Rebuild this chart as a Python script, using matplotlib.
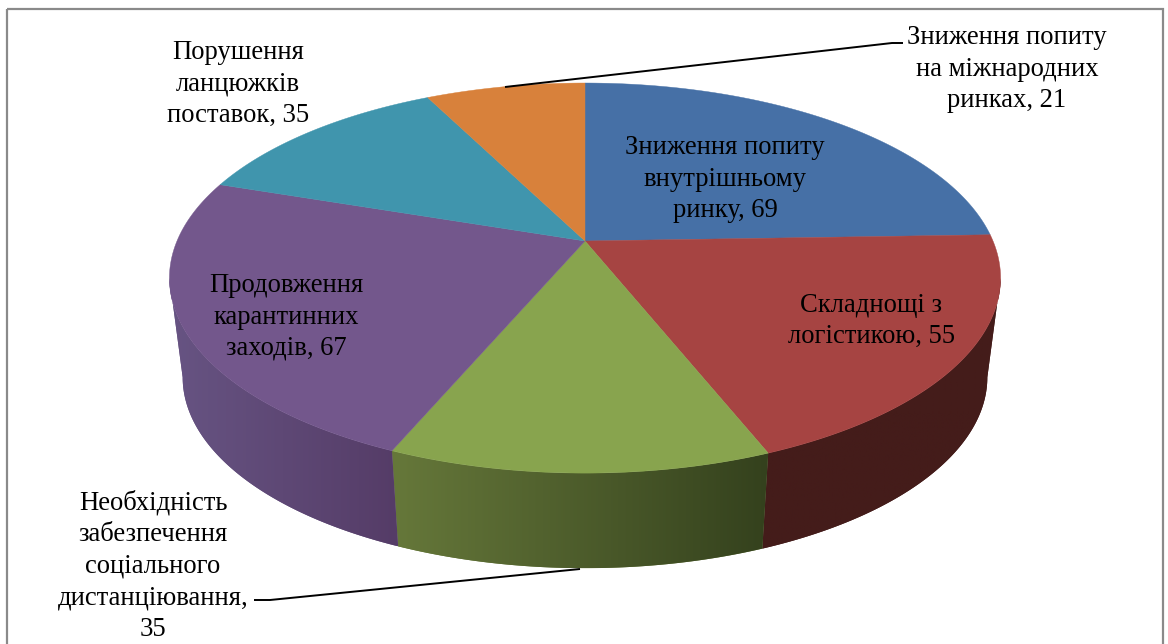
import numpy as np
import matplotlib
matplotlib.use("Agg")
import matplotlib.pyplot as plt
from matplotlib.patches import Polygon, Rectangle
from matplotlib.colors import to_rgb

categories = ["Зниження попиту\nвнутрішньому\nринку, 69", "Складнощі з\nлогістикою, 55",
              "Необхідність\nзабезпечення\nсоціального\nдистанціювання,\n35",
              "Продовження\nкарантинних\nзаходів, 67", "Порушення\nланцюжків\nпоставок, 35",
              "Зниження попиту\nна міжнародних\nринках, 21"]
values = [69, 55, 35, 67, 35, 21]
top_colors = ["#4670a6", "#a64442", "#88a44e", "#73578c", "#4095ad", "#d8813b"]
side_left = [None, "#441c1a", "#66783a", "#675483", None, None]
side_right = [None, "#441c1a", "#34411d", "#553c67", None, None]
label_pos = [(725, 179), (871, 321), (153, 566), (286, 317), (238, 84), (1007, 69)]

plt.rcParams["font.family"] = ["Liberation Serif", "DejaVu Serif"]
FS = 19.2
LS = 1.34

fig = plt.figure(figsize=(11.68, 6.44), dpi=100, facecolor="white")
ax = fig.add_axes([0, 0, 1, 1])
ax.axis("off")

CX, K = 585, 0.19
TOP = (408, 188, 241)
BOT = (395, 184, 341)


def project(deg, geom):
    a, b, y0 = geom
    t = np.radians(deg)
    u, v = np.sin(t), np.cos(t)
    d = 1 + K * v
    return np.column_stack([CX + a * u / d, y0 - b * v / d])


edges = np.concatenate([[0], np.cumsum(values)]) / np.sum(values) * 360
tangent = np.degrees(np.arcsin(K))
lim_lo, lim_hi = 90 + tangent, 270 - tangent

# sides
for i in range(len(values)):
    if side_left[i] is None:
        continue
    t0, t1 = max(edges[i], lim_lo), min(edges[i + 1], lim_hi)
    ts = np.linspace(t0, t1, 120)
    poly = np.vstack([project(ts, TOP), project(ts[::-1], BOT)])
    patch = Polygon(poly, closed=True, facecolor=side_left[i], edgecolor="none")
    ax.add_patch(patch)
    x0, x1 = poly[:, 0].min(), poly[:, 0].max()
    y0, y1 = poly[:, 1].min(), poly[:, 1].max()
    c0, c1 = np.array(to_rgb(side_left[i])), np.array(to_rgb(side_right[i]))
    grad = np.linspace(0, 1, 200)[:, None] * (c1 - c0) + c0
    im = ax.imshow(grad[None, :, :], extent=(x0, x1, y1, y0), aspect="auto", zorder=1)
    im.set_clip_path(patch)
    patch.set_zorder(0.5)

# top face
for i in range(len(values)):
    ts = np.linspace(edges[i], edges[i + 1], 200)
    poly = np.vstack([[[CX, TOP[2]]], project(ts, TOP)])
    ax.add_patch(Polygon(poly, closed=True, facecolor=top_colors[i],
                         edgecolor=top_colors[i], linewidth=0.3, zorder=2))

# leader lines
ax.plot([505, 892, 903], [87, 43, 43], color="black", lw=1.4, zorder=3, solid_capstyle="butt")
ax.plot([580, 270, 254], [569, 600, 600], color="black", lw=1.4, zorder=3, solid_capstyle="butt")

# labels
for txt, (x, y) in zip(categories, label_pos):
    ax.text(x, y, txt, ha="center", va="center", fontsize=FS, linespacing=LS,
            color="black", zorder=4)

# frame
ax.add_patch(Rectangle((7, 9), 1156, 660, facecolor="none", edgecolor="#8a8a8a",
                       linewidth=1.6, zorder=5, clip_on=True))

ax.set_xlim(0, 1168)
ax.set_ylim(644, 0)
fig.savefig("out.png", dpi=100, facecolor="white")
